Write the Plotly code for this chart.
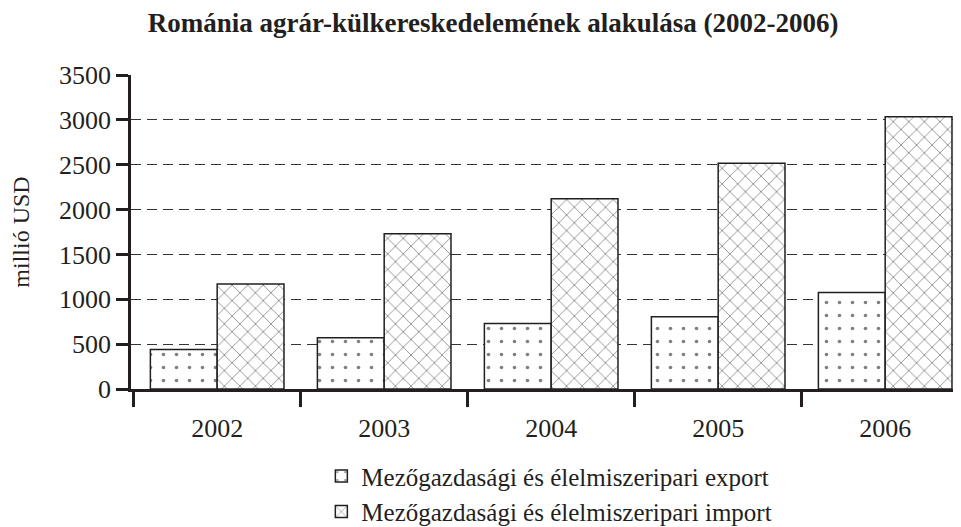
import plotly.graph_objects as go

years = ["2002", "2003", "2004", "2005", "2006"]
export_vals = [440, 570, 730, 805, 1075]
import_vals = [1170, 1730, 2120, 2515, 3035]
y_ticks = [0, 500, 1000, 1500, 2000, 2500, 3000, 3500]

title_text = "Románia agrár-külkereskedelemének alakulása (2002-2006)"
y_title = "millió USD"
name_export = "Mezőgazdasági és élelmiszeripari export"
name_import = "Mezőgazdasági és élelmiszeripari import"

FONT = "Liberation Serif"

fig = go.Figure()
fig.add_trace(go.Bar(
    x=years, y=export_vals, name=name_export,
    marker=dict(color="white", line=dict(color="#231f20", width=1.5),
                pattern=dict(shape=".", fgcolor="black", bgcolor="white",
                             size=13, solidity=0.06)),
))
fig.add_trace(go.Bar(
    x=years, y=import_vals, name=name_import,
    marker=dict(color="white", line=dict(color="#231f20", width=1.5),
                pattern=dict(shape="x", fgcolor="black", bgcolor="white",
                             size=11, solidity=0.14)),
))

fig.update_layout(
    width=953, height=519,
    margin=dict(l=123, r=6, t=67, b=138, autoexpand=False),
    paper_bgcolor="white", plot_bgcolor="white",
    barmode="group", bargap=0.2, bargroupgap=0,
    font=dict(family=FONT, size=25, color="#231f20"),
    title=dict(text="<b>" + title_text + "</b>", x=0.509, xanchor="center",
               y=0.972, yanchor="middle", font=dict(size=27, family=FONT)),
    showlegend=True,
    legend=dict(orientation="v", x=0.231, xanchor="left", y=-0.205, yanchor="top",
                font=dict(size=25, family=FONT), tracegroupgap=4,
                bgcolor="rgba(0,0,0,0)"),
)
fig.update_xaxes(
    type="category", range=[-0.516, 4.418], automargin=False,
    showline=True, linecolor="#231f20", linewidth=2.5,
    ticks="outside", tickson="boundaries", ticklen=15, tickwidth=2.5,
    tickcolor="#231f20", showgrid=False, zeroline=False,
    ticklabelstandoff=14,
    tickfont=dict(size=26, family=FONT),
)
fig.update_yaxes(
    range=[0, 3500], tickvals=y_ticks, automargin=False,
    showline=True, linecolor="#231f20", linewidth=2.5,
    ticks="outside", ticklen=12, tickwidth=2.5, tickcolor="#231f20",
    showgrid=True, gridcolor="#333", gridwidth=1.3, griddash="10px,6px",
    zeroline=False,
    title=dict(text=y_title, font=dict(size=24, family=FONT), standoff=24),
    tickfont=dict(size=26, family=FONT),
)

fig.write_html("out.html")
